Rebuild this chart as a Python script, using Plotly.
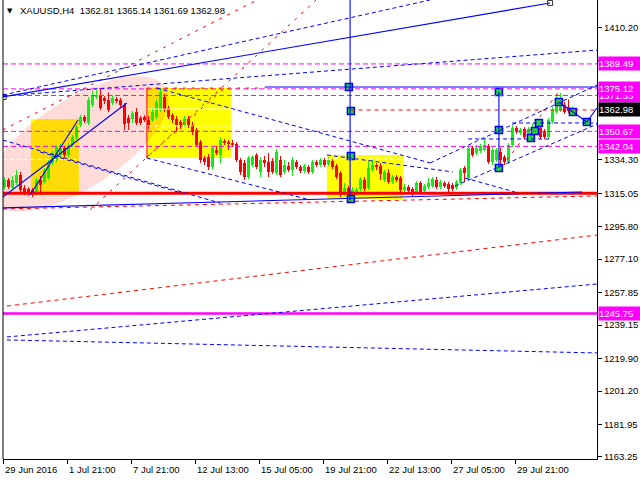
import numpy as np
import plotly.graph_objects as go

# ---------------- data: H4 candles (open, high, low, close) ----------------
opens = [1318.6, 1322.7, 1318.1, 1320.9, 1325.6, 1318.1, 1317.5, 1316.9, 1315.2, 1322.7,
         1321.5, 1323.8, 1332.5, 1334.2, 1337.1, 1341.1, 1337.1, 1342.8, 1346.9, 1354.3,
         1358.9, 1355.5, 1365.9, 1370.5, 1371.6, 1369.9, 1368.7, 1367.0, 1369.3, 1368.7,
         1365.9, 1358.4, 1357.8, 1361.8, 1358.4, 1358.9, 1357.2, 1357.2, 1358.9, 1363.0,
         1370.5, 1364.1, 1360.1, 1357.8, 1356.1, 1354.3, 1357.8, 1354.3, 1351.5, 1344.5,
         1335.3, 1335.9, 1330.2, 1339.9, 1337.1, 1344.5, 1344.5, 1344.0, 1343.4, 1334.2,
         1332.5, 1324.4, 1331.3, 1337.1, 1327.3, 1334.2, 1333.0, 1333.6, 1326.7, 1334.2,
         1327.3, 1330.7, 1328.4, 1333.0, 1330.2, 1327.9, 1330.2, 1327.3, 1333.0, 1331.3,
         1334.2, 1331.9, 1333.6, 1330.7, 1326.7, 1315.8, 1318.1, 1314.0, 1314.6, 1317.5,
         1322.7, 1318.1, 1328.4, 1331.3, 1330.7, 1322.7, 1326.7, 1321.5, 1324.4, 1323.8,
         1316.9, 1318.6, 1317.5, 1315.8, 1320.9, 1316.3, 1318.6, 1319.2, 1322.7, 1318.6,
         1320.9, 1320.4, 1319.8, 1318.1, 1320.9, 1329.6, 1323.8, 1341.1, 1338.2, 1339.4,
         1339.9, 1342.3, 1333.0, 1334.2, 1338.8, 1335.9, 1333.0, 1342.8, 1352.6, 1349.7,
         1352.0, 1348.6, 1350.3, 1352.0, 1352.6, 1351.0, 1347.4, 1356.1, 1361.8, 1363.0,
         1365.9, 1364.7, 1362.81]
highs = [1324.4, 1323.8, 1325.0, 1328.4, 1327.3, 1319.8, 1318.6, 1318.1, 1323.8, 1325.0,
         1329.6, 1334.2, 1339.4, 1342.8, 1343.4, 1342.3, 1344.0, 1348.6, 1354.3, 1360.1,
         1360.1, 1370.5, 1373.9, 1374.5, 1375.6, 1371.0, 1373.0, 1371.6, 1370.5, 1369.9,
         1367.0, 1360.1, 1362.4, 1364.1, 1359.5, 1360.1, 1359.5, 1364.1, 1369.3, 1375.6,
         1372.1, 1365.3, 1361.2, 1359.5, 1357.2, 1359.5, 1359.5, 1356.1, 1352.6, 1345.7,
         1336.5, 1337.6, 1342.3, 1342.3, 1347.4, 1346.3, 1345.7, 1345.7, 1344.5, 1335.3,
         1334.2, 1336.5, 1337.1, 1338.2, 1335.9, 1336.5, 1338.2, 1335.3, 1340.5, 1336.5,
         1334.2, 1333.0, 1335.9, 1334.2, 1331.3, 1331.9, 1331.3, 1334.2, 1334.2, 1335.3,
         1335.3, 1335.9, 1334.7, 1331.9, 1327.9, 1320.9, 1319.2, 1318.6, 1318.1, 1324.4,
         1324.4, 1333.6, 1334.7, 1332.5, 1332.5, 1328.4, 1329.0, 1325.6, 1325.6, 1325.0,
         1320.4, 1319.8, 1318.6, 1322.1, 1322.1, 1320.4, 1323.8, 1324.4, 1324.4, 1322.7,
         1322.1, 1321.5, 1321.0, 1322.7, 1329.6, 1330.7, 1342.3, 1342.3, 1342.8, 1343.4,
         1345.7, 1343.4, 1342.3, 1341.1, 1341.1, 1337.1, 1344.0, 1354.3, 1353.8, 1352.6,
         1353.2, 1353.2, 1355.5, 1353.8, 1354.3, 1352.0, 1358.4, 1364.7, 1372.1, 1372.8,
         1367.6, 1369.0, 1365.14]
lows = [1317.5, 1317.5, 1316.9, 1319.8, 1315.8, 1314.0, 1313.5, 1312.9, 1313.5, 1314.0,
        1320.4, 1322.7, 1331.3, 1333.0, 1336.0, 1335.9, 1336.0, 1341.7, 1345.7, 1353.2,
        1355.5, 1354.3, 1364.7, 1369.3, 1362.9, 1366.4, 1361.8, 1365.9, 1367.0, 1364.7,
        1351.5, 1351.5, 1355.5, 1354.3, 1354.3, 1356.1, 1352.0, 1356.1, 1357.8, 1361.8,
        1361.8, 1357.8, 1355.5, 1350.3, 1352.0, 1353.2, 1352.6, 1348.6, 1341.7, 1332.5,
        1331.3, 1328.4, 1329.0, 1337.1, 1332.5, 1342.8, 1339.9, 1341.7, 1333.0, 1325.6,
        1322.7, 1323.2, 1330.2, 1329.0, 1324.4, 1330.2, 1324.4, 1326.1, 1325.6, 1324.4,
        1326.1, 1327.3, 1325.0, 1329.0, 1326.7, 1326.7, 1326.1, 1326.1, 1330.2, 1330.2,
        1330.2, 1330.7, 1329.0, 1323.2, 1312.9, 1313.5, 1311.2, 1312.9, 1313.5, 1316.3,
        1316.3, 1316.9, 1327.3, 1328.4, 1322.7, 1321.5, 1320.4, 1320.4, 1321.5, 1315.8,
        1315.2, 1314.6, 1313.5, 1314.6, 1314.0, 1315.2, 1317.5, 1318.1, 1317.5, 1317.5,
        1318.1, 1315.8, 1316.3, 1316.9, 1319.8, 1321.5, 1322.7, 1336.0, 1337.1, 1338.2,
        1339.4, 1331.9, 1331.3, 1333.0, 1328.4, 1331.3, 1331.9, 1341.7, 1349.2, 1348.6,
        1346.3, 1347.4, 1349.2, 1349.2, 1346.3, 1346.3, 1346.3, 1355.0, 1360.7, 1361.8,
        1360.7, 1361.2, 1361.69]
closes = [1322.7, 1318.6, 1322.7, 1325.6, 1316.9, 1315.8, 1315.2, 1315.2, 1322.7, 1319.8,
          1328.4, 1333.0, 1338.2, 1341.7, 1341.1, 1337.1, 1342.3, 1347.4, 1353.2, 1358.9,
          1356.7, 1368.7, 1371.6, 1371.6, 1364.1, 1368.1, 1363.0, 1369.9, 1368.1, 1365.9,
          1354.9, 1355.5, 1361.2, 1355.5, 1355.5, 1357.2, 1353.2, 1361.8, 1367.6, 1373.3,
          1363.0, 1358.9, 1357.2, 1354.3, 1354.3, 1357.8, 1354.3, 1350.3, 1342.8, 1334.2,
          1333.0, 1330.2, 1341.1, 1338.2, 1345.7, 1344.0, 1343.4, 1342.8, 1334.2, 1327.3,
          1324.4, 1335.3, 1335.9, 1330.2, 1334.2, 1332.5, 1327.3, 1327.3, 1338.8, 1325.6,
          1331.3, 1328.4, 1334.2, 1330.2, 1327.9, 1330.7, 1327.3, 1333.0, 1331.3, 1334.2,
          1331.3, 1334.2, 1330.2, 1324.4, 1314.0, 1318.1, 1314.0, 1316.9, 1316.9, 1323.2,
          1317.5, 1329.6, 1331.3, 1330.2, 1326.1, 1327.3, 1321.5, 1324.4, 1322.7, 1316.9,
          1318.6, 1316.3, 1315.2, 1320.9, 1315.2, 1319.2, 1320.9, 1323.2, 1318.6, 1321.5,
          1319.2, 1317.5, 1317.5, 1321.5, 1328.4, 1326.7, 1341.1, 1337.1, 1341.1, 1342.3,
          1342.8, 1333.0, 1339.9, 1339.9, 1334.2, 1333.0, 1342.8, 1352.6, 1350.3, 1351.5,
          1347.4, 1352.0, 1352.6, 1350.3, 1347.4, 1347.4, 1357.2, 1363.0, 1367.0, 1368.7,
          1361.8, 1362.4, 1362.98]

x_label_text = ["29 Jun 2016", "1 Jul 21:00", "7 Jul 21:00", "12 Jul 13:00", "15 Jul 05:00",
                "19 Jul 21:00", "22 Jul 13:00", "27 Jul 05:00", "29 Jul 21:00"]
x_label_bars = [0, 16, 32, 48, 64, 80, 96, 112, 128]

y_tick_vals = [1410.20, 1391.25, 1372.30, 1353.55, 1334.30, 1315.05, 1295.80, 1277.10,
               1257.85, 1239.15, 1219.90, 1201.20, 1181.95, 1163.25]
# tick labels that sit under the price tags are not readable in the original
y_tick_hidden = [1391.25, 1372.30, 1353.55]

magenta_levels = [1389.49, 1375.12, 1371.33, 1350.67, 1342.04]
support_level = 1315.05
low_level = 1245.75
last_price = 1362.98
# (price, background) for the right-edge price tags, drawn in this order
price_tags = [(1389.49, "#FF00FF"), (1371.33, "#FF00FF"), (1375.12, "#FF00FF"),
              (1362.98, "#000000"), (1350.67, "#FF00FF"), (1342.04, "#FF00FF"),
              (1245.75, "#FF00FF")]

# drawing objects in (bar index, price)
rects = [(6.6, 1357.8, 18.6, 1314.0), (35.6, 1375.6, 56.6, 1335.3), (80.6, 1337.1, 99.6, 1311.7)]
blue_solid = [(-0.4, 1370.5, 136.4, 1424.6), (65.1, 1376.2, 148.2, 1376.2),
              (-0.4, 1306.6, 144.4, 1315.8), (-0.4, 1312.9, 30.6, 1367.0),
              (6.4, 1314.0, 18.4, 1357.2), (86.4, 1426.3, 86.4, 1311.2),
              (123.6, 1373.3, 123.6, 1329.6)]
zigzag_bars = [138.6, 142.1, 145.6, 148.1]
zigzag_prices = [1367.6, 1361.8, 1356.1, 1364.1]
blue_dashed = [(-0.4, 1371.6, 106.4, 1426.3), (-0.4, 1371.0, 148.2, 1397.5),
               (38.1, 1375.6, 106.4, 1332.5), (80.6, 1337.1, 112.1, 1327.3),
               (115.1, 1323.8, 127.6, 1315.8), (35.6, 1335.3, 76.4, 1311.2),
               (-0.4, 1345.7, 53.9, 1309.4), (8.9, 1338.8, 45.1, 1314.6),
               (106.4, 1332.5, 148.2, 1377.4), (112.6, 1319.2, 148.2, 1354.9),
               (126.9, 1355.5, 148.2, 1355.5), (115.9, 1346.3, 136.9, 1346.3),
               (0.6, 1232.3, 148.2, 1262.8), (0.6, 1230.6, 148.2, 1223.1)]
red_dotted = [(-0.4, 1351.5, 63.1, 1426.3), (21.4, 1305.4, 77.9, 1426.3),
              (35.6, 1335.9, 55.9, 1377.4), (125.6, 1334.2, 138.9, 1374.5),
              (35.6, 1375.6, 65.1, 1375.6)]
red_dashed = [(-0.4, 1306.0, 148.2, 1313.5), (0.6, 1250.1, 148.2, 1291.0),
              (86.5, 1362.98, 148.2, 1362.98)]
white_lines = [(-0.4, 1334.5, 18.6, 1334.5, "dash"), (35.6, 1363.5, 56.6, 1363.5, "solid"),
               (35.6, 1353.8, 56.6, 1353.8, "dash"), (80.6, 1334.8, 99.6, 1334.8, "dash")]
anchor_bars = [86.1, 86.6, 86.6, 86.6, 123.6, 123.6, 123.6, 131.6, 132.6, 133.6, 138.6, 142.1, 145.6]
anchor_prices = [1376.2, 1362.4, 1336.5, 1311.7, 1373.3, 1351.5, 1329.6, 1346.9, 1350.9,
                 1355.5, 1367.6, 1361.8, 1356.1]
hollow_bars = [-0.2, 136.4]
hollow_prices = [1370.5, 1424.6]

# ellipse (centre in bar/price, semi axes and tilt in screen pixels)
ell_center = (18.4, 1343.5)
ell_axes_px = (104, 44)
ell_tilt_deg = 33

# ---------------- figure ----------------
X0, X1 = -0.375, 148.125
Y0, Y1 = 1162.05, 1426.3
PX_PER_BAR = 4.0
PRICE_PER_PX = (Y1 - Y0) / 459.0

GREEN = "#11EE11"
RED = "#FF0000"
BLUE = "#0000FF"

n = len(opens)
idx = list(range(n))
is_up = [c >= o for o, c in zip(opens, closes)]
body_base = [min(o, c) for o, c in zip(opens, closes)]
body_h = [max(abs(c - o), 0.6) for o, c in zip(opens, closes)]
colors = [GREEN if u else RED for u in is_up]

fig = go.Figure()
fig.add_trace(go.Bar(x=idx, y=body_h, base=body_base, width=0.75,
                     marker=dict(color=colors, line=dict(width=0)), hoverinfo="skip"))
for col, want in ((GREEN, True), (RED, False)):
    wx, wy = [], []
    for i in idx:
        if is_up[i] == want:
            wx += [i, i, None]
            wy += [lows[i], highs[i], None]
    fig.add_trace(go.Scatter(x=wx, y=wy, mode="lines", line=dict(color=col, width=1),
                             hoverinfo="skip"))

fig.add_trace(go.Scatter(x=anchor_bars, y=anchor_prices, mode="markers",
                         marker=dict(symbol="square", size=7, color="#22DD22",
                                     line=dict(color=BLUE, width=1.5)), hoverinfo="skip"))
fig.add_trace(go.Scatter(x=hollow_bars, y=hollow_prices, mode="markers",
                         marker=dict(symbol="square", size=5, color="white",
                                     line=dict(color="#333333", width=1)), hoverinfo="skip"))

shapes = []
for (xa, ya, xb, yb) in rects:
    shapes.append(dict(type="rect", xref="x", yref="y", x0=xa, x1=xb, y0=yb, y1=ya,
                       fillcolor="#FFFF00", line=dict(width=0), layer="below"))

# ellipse path
t = np.linspace(0, 2 * np.pi, 90)
th = np.deg2rad(ell_tilt_deg)
a_px, b_px = ell_axes_px
dx = a_px * np.cos(t) * np.cos(th) + b_px * np.sin(t) * np.sin(th)
dy = -a_px * np.cos(t) * np.sin(th) + b_px * np.sin(t) * np.cos(th)
ex = ell_center[0] + dx / PX_PER_BAR
ey = ell_center[1] - dy * PRICE_PER_PX
path = "M " + " L ".join(f"{x:.3f},{y:.3f}" for x, y in zip(ex, ey)) + " Z"
shapes.append(dict(type="path", xref="x", yref="y", path=path,
                   fillcolor="rgba(255,60,40,0.18)", line=dict(width=0), layer="below"))

def seg(xa, ya, xb, yb, color, width=1, dash="solid"):
    shapes.append(dict(type="line", xref="x", yref="y", x0=xa, y0=ya, x1=xb, y1=yb,
                       line=dict(color=color, width=width, dash=dash), layer="above"))

for (xa, ya, xb, yb, d) in white_lines:
    seg(xa, ya, xb, yb, "white", 1, "4px,3px" if d == "dash" else "solid")

# vertical red edge of second box
seg(35.6, 1375.6, 35.6, 1335.3, RED, 1)

for lv in magenta_levels:
    shapes.append(dict(type="line", xref="paper", yref="y", x0=0, x1=1, y0=lv, y1=lv,
                       line=dict(color="#FF00FF", width=1, dash="5px,3px"), layer="above"))
shapes.append(dict(type="line", xref="paper", yref="y", x0=0, x1=1, y0=support_level,
                   y1=support_level, line=dict(color=RED, width=3), layer="above"))
shapes.append(dict(type="line", xref="paper", yref="y", x0=0, x1=1, y0=low_level,
                   y1=low_level, line=dict(color="#FF00FF", width=2.5), layer="above"))

for s in red_dotted:
    seg(*s, RED, 1, "3px,6px")
for s in red_dashed:
    seg(*s, RED, 1, "4px,4px")
for s in blue_dashed:
    seg(*s, BLUE, 1, "4px,3px")
for s in blue_solid:
    seg(*s, BLUE, 1.1, "solid")
for k in range(len(zigzag_bars) - 1):
    seg(zigzag_bars[k], zigzag_prices[k], zigzag_bars[k + 1], zigzag_prices[k + 1], BLUE, 1.1)

# left frame line
shapes.append(dict(type="line", xref="paper", yref="paper", x0=0, x1=0, y0=0, y1=1,
                   line=dict(color="black", width=1), layer="above"))

FONT = "Liberation Sans, Arial, sans-serif"
annotations = []
for txt, b in zip(x_label_text, x_label_bars):
    annotations.append(dict(x=b - 0.375, xref="x", y=0, yref="paper", text=txt,
                            showarrow=False, xanchor="left", yanchor="top", yshift=-3,
                            font=dict(family=FONT, size=9.5, color="black")))
for pr, bg in price_tags:
    annotations.append(dict(x=1, xref="paper", y=pr, yref="y", text=f"{pr:.2f}",
                            showarrow=False, xanchor="left", yanchor="middle", xshift=1,
                            width=41, height=13, align="left", bgcolor=bg, borderpad=0,
                            font=dict(family=FONT, size=9.5, color="white")))
annotations.append(dict(x=7 / 594, xref="paper", y=1 - 11 / 459, yref="paper", text="▼",
                        showarrow=False, xanchor="center", yanchor="middle",
                        font=dict(family="DejaVu Sans", size=7, color="black")))
annotations.append(dict(x=15 / 594, xref="paper", y=1 - 11 / 459, yref="paper",
                        text="XAUUSD,H4  1362.81 1365.14 1361.69 1362.98",
                        showarrow=False, xanchor="left", yanchor="middle",
                        font=dict(family=FONT, size=9.5, color="black")))

fig.update_layout(
    width=640, height=480, margin=dict(l=3, r=43, t=0, b=21),
    paper_bgcolor="white", plot_bgcolor="white", showlegend=False,
    bargap=0, barmode="overlay",
    shapes=shapes, annotations=annotations,
    xaxis=dict(range=[X0, X1], showgrid=False, zeroline=False, showline=True,
               linecolor="black", linewidth=1, ticks="outside", ticklen=4,
               tickcolor="black", tickvals=[b - 0.375 for b in x_label_bars],
               showticklabels=False, fixedrange=True),
    yaxis=dict(range=[Y0, Y1], side="right", showgrid=False, zeroline=False,
               showline=True, linecolor="black", linewidth=1, ticks="outside",
               ticklen=4, tickcolor="black", tickvals=y_tick_vals,
               ticktext=["" if v in y_tick_hidden else f"{v:.2f}" for v in y_tick_vals],
               tickfont=dict(family=FONT, size=9.5, color="black"), fixedrange=True),
)

fig.write_html("out.html", config={"displayModeBar": False},
               post_script="document.body.style.margin='0';document.body.style.padding='0';")
